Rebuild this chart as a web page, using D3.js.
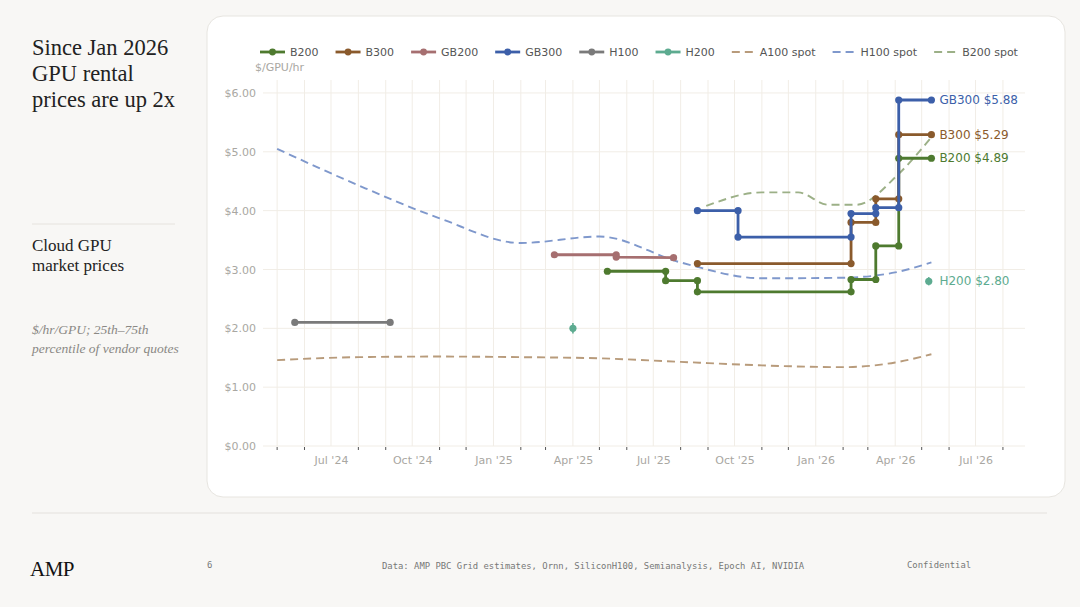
<!DOCTYPE html>
<html>
<head>
<meta charset="utf-8">
<script src="https://cdn.jsdelivr.net/npm/d3@7"></script>
<style>
html, body { margin: 0; padding: 0; background: #f8f7f5; }
svg { display: block; }
</style>
</head>
<body>
<svg id="chart" width="1080" height="607"></svg>
<script>
// vendor quote medians, step changes as [date, $/hr]
const b200 = [
    ["2025-05-10", 2.97], ["2025-07-15", 2.97], ["2025-07-15", 2.81], ["2025-08-20", 2.81],
    ["2025-08-20", 2.62], ["2026-02-10", 2.62], ["2026-02-10", 2.83], ["2026-03-10", 2.83],
    ["2026-03-10", 3.40], ["2026-04-05", 3.40], ["2026-04-05", 4.89], ["2026-05-12", 4.89]
];
const b300 = [
    ["2025-08-20", 3.10], ["2026-02-10", 3.10], ["2026-02-10", 3.80], ["2026-03-10", 3.80],
    ["2026-03-10", 4.20], ["2026-04-05", 4.20], ["2026-04-05", 5.29], ["2026-05-12", 5.29]
];
const gb200 = [
    ["2025-03-11", 3.25], ["2025-05-20", 3.25], ["2025-05-20", 3.21], ["2025-07-24", 3.20]
];
const gb300 = [
    ["2025-08-20", 4.00], ["2025-10-05", 4.00], ["2025-10-05", 3.55], ["2026-02-10", 3.55],
    ["2026-02-10", 3.95], ["2026-03-10", 3.95], ["2026-03-10", 4.05], ["2026-04-05", 4.05],
    ["2026-04-05", 5.88], ["2026-05-12", 5.88]
];
const h100 = [["2024-05-21", 2.10], ["2024-09-06", 2.10]];

// H200 quotes with 25th-75th range
const h200Dates = ["2025-04-01", "2026-05-09"];
const h200Values = [2.00, 2.80];
const h200Low = [1.91, 2.73];
const h200High = [2.09, 2.87];

// spot indices
const a100Spot = [
    ["2024-05-01", 1.46], ["2024-08-01", 1.51], ["2024-11-01", 1.52], ["2025-02-01", 1.51],
    ["2025-05-01", 1.49], ["2025-08-01", 1.43], ["2025-11-01", 1.37], ["2026-02-01", 1.34],
    ["2026-04-01", 1.42], ["2026-05-12", 1.56]
];
const h100Spot = [
    ["2024-05-01", 5.05], ["2024-08-01", 4.43], ["2024-11-01", 3.87], ["2025-02-01", 3.45],
    ["2025-05-01", 3.56], ["2025-08-01", 3.12], ["2025-11-01", 2.85], ["2026-02-01", 2.86],
    ["2026-04-01", 2.95], ["2026-05-12", 3.12]
];
const b200Spot = [
    ["2025-08-30", 4.08], ["2025-11-01", 4.31], ["2025-12-12", 4.31], ["2026-01-15", 4.10],
    ["2026-02-16", 4.10], ["2026-04-04", 4.61], ["2026-05-12", 5.25]
];

const yTicks = [0, 1, 2, 3, 4, 5, 6];
const xDomain = ["2024-04-15", "2026-08-26"];

const COLOR = {
    B200: "#4e7a2f",
    B300: "#8a5a2c",
    GB200: "#a66f70",
    GB300: "#3c5fa9",
    H100: "#7a7a7a",
    H200: "#5dab90",
    A100_SPOT: "#b89b7b",
    H100_SPOT: "#7f98cc",
    B200_SPOT: "#9cb087"
};

const SANS = "'DejaVu Sans', Verdana, sans-serif";
const SERIF = "'Liberation Serif', 'Times New Roman', serif";
const MONO = "'DejaVu Sans Mono', monospace";
const DASH = "8,5";

const parse = d3.utcParse("%Y-%m-%d");
const toPoints = rows => rows.map(([d, v]) => ({ date: parse(d), value: v }));

const svg = d3.select("#chart");

// ---- left panel ----
const side = svg.append("g").attr("fill", "#222").attr("font-family", SERIF);

side.append("text")
    .attr("x", 32).attr("y", 55)
    .attr("font-size", 22.5)
    .selectAll("tspan")
    .data(["Since Jan 2026", "GPU rental", "prices are up 2x"])
    .join("tspan")
    .attr("x", 32)
    .attr("dy", (d, i) => i ? 26 : 0)
    .text(d => d);

side.append("line")
    .attr("x1", 32).attr("x2", 175)
    .attr("y1", 224).attr("y2", 224)
    .attr("stroke", "#e6e3de");

side.append("text")
    .attr("x", 32).attr("y", 251)
    .attr("font-size", 17)
    .selectAll("tspan")
    .data(["Cloud GPU", "market prices"])
    .join("tspan")
    .attr("x", 32)
    .attr("dy", (d, i) => i ? 19.5 : 0)
    .text(d => d);

side.append("text")
    .attr("x", 32).attr("y", 334)
    .attr("font-size", 13.5)
    .attr("font-style", "italic")
    .attr("fill", "#8a8884")
    .selectAll("tspan")
    .data(["$/hr/GPU; 25th\u201375th", "percentile of vendor quotes"])
    .join("tspan")
    .attr("x", 32)
    .attr("dy", (d, i) => i ? 18.5 : 0)
    .text(d => d);

// ---- footer ----
svg.append("line")
    .attr("x1", 32).attr("x2", 1047)
    .attr("y1", 513).attr("y2", 513)
    .attr("stroke", "#ebe9e5").attr("stroke-width", 1.5);

svg.append("text")
    .attr("x", 30).attr("y", 576)
    .attr("font-family", SERIF).attr("font-size", 21)
    .attr("letter-spacing", -0.5)
    .attr("fill", "#111")
    .text("AMP");

const foot = svg.append("g")
    .attr("font-family", MONO).attr("font-size", 8.9).attr("fill", "#777");
foot.append("text").attr("x", 207).attr("y", 568).text("6");
foot.append("text").attr("x", 382).attr("y", 569)
    .text("Data: AMP PBC Grid estimates, Ornn, SiliconH100, Semianalysis, Epoch AI, NVIDIA");
foot.append("text").attr("x", 907).attr("y", 568).text("Confidential");

// ---- card ----
svg.append("rect")
    .attr("x", 207).attr("y", 16)
    .attr("width", 858).attr("height", 481)
    .attr("rx", 16)
    .attr("fill", "#ffffff")
    .attr("stroke", "#e7e5e0");

// ---- plot ----
const plot = { left: 263, right: 1025, top: 80, bottom: 446 };

const x = d3.scaleUtc()
    .domain(xDomain.map(parse))
    .range([plot.left, plot.right]);

const y = d3.scaleLinear()
    .domain([0, 6.22])
    .range([plot.bottom, plot.top]);

const months = d3.utcMonth.range(d3.utcMonth.ceil(x.domain()[0]), x.domain()[1]);
const isQuarter = d => d.getUTCMonth() % 3 === 0;

const grid = svg.append("g").attr("stroke", "#f1ede6").attr("stroke-width", 1);

grid.selectAll(".v-grid")
    .data(months)
    .join("line")
    .attr("class", "v-grid")
    .attr("x1", d => x(d)).attr("x2", d => x(d))
    .attr("y1", plot.top).attr("y2", plot.bottom);

grid.selectAll(".h-grid")
    .data(yTicks)
    .join("line")
    .attr("class", "h-grid")
    .attr("x1", plot.left).attr("x2", plot.right)
    .attr("y1", d => y(d)).attr("y2", d => y(d));

// minor tick marks on non-quarter months
svg.append("g")
    .attr("stroke", "#555")
    .selectAll("line")
    .data(months.filter(d => !isQuarter(d)))
    .join("line")
    .attr("x1", d => x(d)).attr("x2", d => x(d))
    .attr("y1", plot.bottom + 1).attr("y2", plot.bottom + 4);

const fmtMonth = d => d3.utcFormat("%b")(d) + " '" + d3.utcFormat("%y")(d);

const xAxis = svg.append("g")
    .attr("transform", `translate(0,${ plot.bottom })`)
    .call(d3.axisBottom(x)
        .tickValues(months.filter(isQuarter))
        .tickFormat(fmtMonth)
        .tickSize(0)
        .tickPadding(10));
xAxis.select(".domain").remove();
xAxis.selectAll("text")
    .attr("font-family", SANS).attr("font-size", 11).attr("fill", "#a9a7a2");

const yAxis = svg.append("g")
    .attr("transform", `translate(${ plot.left },0)`)
    .call(d3.axisLeft(y)
        .tickValues(yTicks)
        .tickFormat(d3.format("$.2f"))
        .tickSize(0)
        .tickPadding(7));
yAxis.select(".domain").remove();
yAxis.selectAll("text")
    .attr("font-family", SANS).attr("font-size", 11).attr("fill", "#a9a7a2");

svg.append("text")
    .attr("x", 255).attr("y", 71)
    .attr("font-family", SANS).attr("font-size", 11).attr("fill", "#a9a7a2")
    .text("$/GPU/hr");

// spot lines
const spotLine = d3.line()
    .x(d => x(d.date))
    .y(d => y(d.value))
    .curve(d3.curveMonotoneX);

const spots = [
    { name: "A100 spot", color: COLOR.A100_SPOT, data: toPoints(a100Spot) },
    { name: "H100 spot", color: COLOR.H100_SPOT, data: toPoints(h100Spot) },
    { name: "B200 spot", color: COLOR.B200_SPOT, data: toPoints(b200Spot) }
];

svg.append("g")
    .selectAll("path")
    .data(spots)
    .join("path")
    .attr("d", d => spotLine(d.data))
    .attr("fill", "none")
    .attr("stroke", d => d.color)
    .attr("stroke-width", 1.9)
    .attr("stroke-dasharray", DASH);

// step series
const stepLine = d3.line()
    .x(d => x(d.date))
    .y(d => y(d.value));

const series = [
    { name: "B200", color: COLOR.B200, data: toPoints(b200), label: true },
    { name: "B300", color: COLOR.B300, data: toPoints(b300), label: true },
    { name: "GB200", color: COLOR.GB200, data: toPoints(gb200) },
    { name: "GB300", color: COLOR.GB300, data: toPoints(gb300), label: true },
    { name: "H100", color: COLOR.H100, data: toPoints(h100) }
];

const seriesGroup = svg.append("g")
    .selectAll("g")
    .data(series)
    .join("g");

seriesGroup.append("path")
    .attr("d", d => stepLine(d.data))
    .attr("fill", "none")
    .attr("stroke", d => d.color)
    .attr("stroke-width", 2.8)
    .attr("stroke-linejoin", "round");

seriesGroup.selectAll("circle")
    .data(d => d.data.map(p => ({ ...p, color: d.color })))
    .join("circle")
    .attr("cx", d => x(d.date))
    .attr("cy", d => y(d.value))
    .attr("r", 3.6)
    .attr("fill", d => d.color);

// H200 points with ranges
const h200 = h200Dates.map((d, i) => ({
    date: parse(d), value: h200Values[i], lo: h200Low[i], hi: h200High[i]
}));

const h200Group = svg.append("g");
h200Group.selectAll("line")
    .data(h200)
    .join("line")
    .attr("x1", d => x(d.date)).attr("x2", d => x(d.date))
    .attr("y1", d => y(d.lo)).attr("y2", d => y(d.hi))
    .attr("stroke", COLOR.H200).attr("stroke-width", 1.6);
h200Group.selectAll("circle")
    .data(h200)
    .join("circle")
    .attr("cx", d => x(d.date))
    .attr("cy", d => y(d.value))
    .attr("r", 3.6)
    .attr("fill", COLOR.H200);

// end labels
const lastDate = d3.max(series, s => s.data[s.data.length - 1].date);
const labelX = x(lastDate) + 8;
const endLabels = series
    .filter(s => s.label)
    .map(s => ({ name: s.name, color: s.color, value: s.data[s.data.length - 1].value }))
    .concat([{ name: "H200", color: COLOR.H200, value: h200Values[h200Values.length - 1] }]);

svg.append("g")
    .selectAll("text")
    .data(endLabels)
    .join("text")
    .attr("x", labelX)
    .attr("y", d => y(d.value))
    .attr("dy", "0.35em")
    .attr("font-family", SANS)
    .attr("font-size", 12)
    .attr("fill", d => d.color)
    .text(d => `${ d.name } ${ d3.format("$.2f")(d.value) }`);

// legend
const legendItems = [
    { name: "B200", color: COLOR.B200 },
    { name: "B300", color: COLOR.B300 },
    { name: "GB200", color: COLOR.GB200 },
    { name: "GB300", color: COLOR.GB300 },
    { name: "H100", color: COLOR.H100 },
    { name: "H200", color: COLOR.H200 },
    ...spots.map(s => ({ name: s.name, color: s.color, dashed: true }))
];

const legend = svg.append("g").attr("transform", "translate(260,52)");
let cursor = 0;
legendItems.forEach(item => {
    const g = legend.append("g").attr("transform", `translate(${ cursor },0)`);
    const w = item.dashed ? 21 : 25;
    const gap = item.dashed ? 7 : 5;
    g.append("line")
        .attr("x1", 0).attr("x2", w)
        .attr("stroke", item.color)
        .attr("stroke-width", item.dashed ? 1.9 : 2.8)
        .attr("stroke-dasharray", item.dashed ? DASH : null);
    if (!item.dashed) {
        g.append("circle").attr("cx", w / 2).attr("r", 3.4).attr("fill", item.color);
    }
    const t = g.append("text")
        .attr("x", w + gap)
        .attr("dy", "0.35em")
        .attr("font-family", SANS).attr("font-size", 11).attr("fill", "#555")
        .text(item.name);
    cursor += w + gap + t.node().getComputedTextLength() + 17;
});
</script>
</body>
</html>
